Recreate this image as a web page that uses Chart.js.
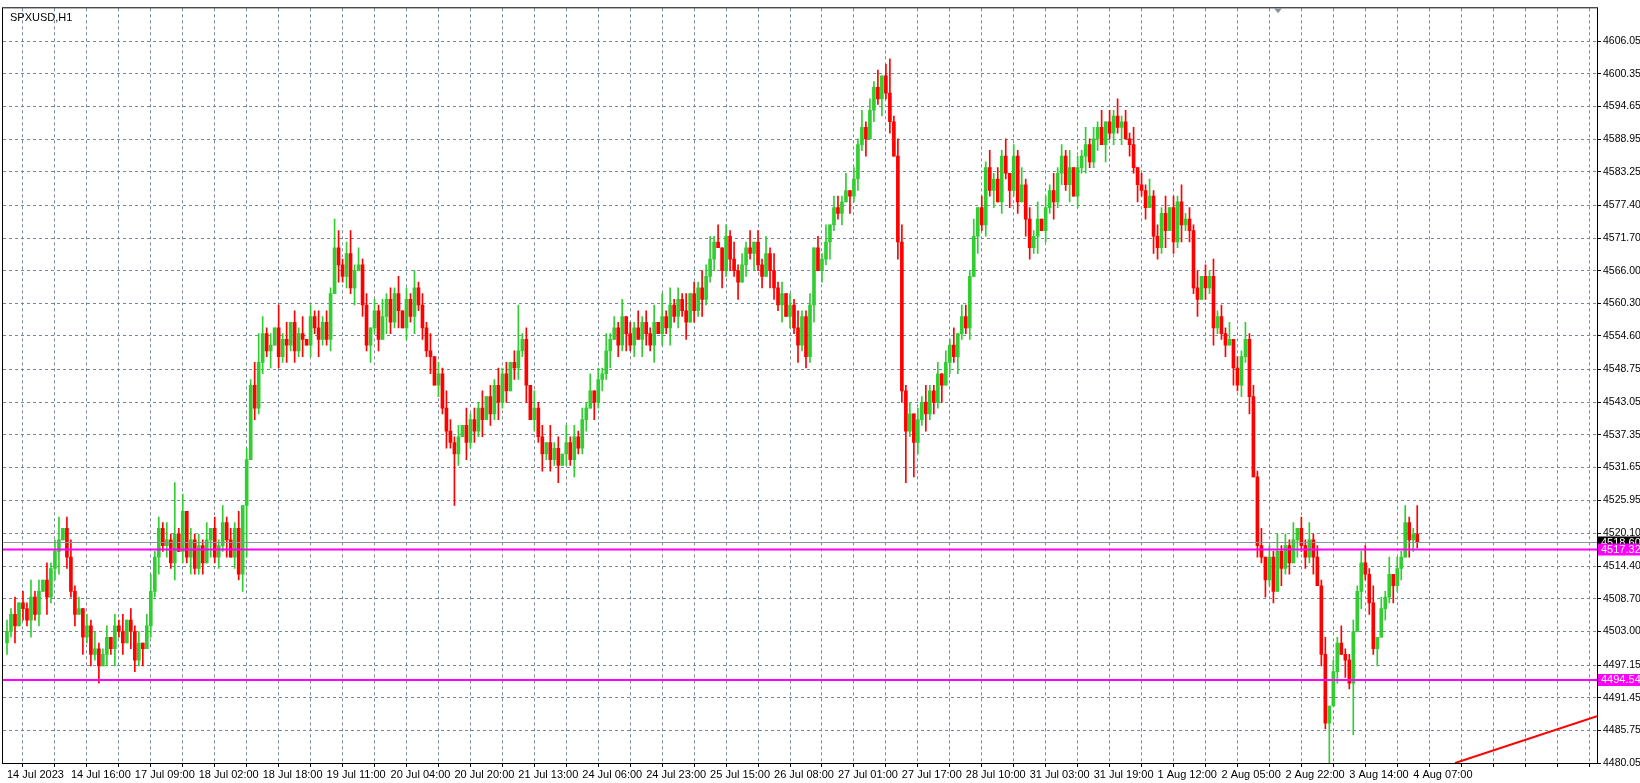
<!DOCTYPE html>
<html>
<head>
<meta charset="utf-8">
<script src="https://cdn.jsdelivr.net/npm/chart.js@4.4.0/dist/chart.umd.min.js"></script>
<style>
  html, body { margin: 0; padding: 0; background: #fff; }
  #wrap { width: 1640px; height: 783px; }
</style>
</head>
<body>
<div id="wrap"><canvas id="chart"></canvas></div>
<script>
// hourly closes, 14 Jul 00:00 onwards (16 bars per row)
const closes = [
  4503,4506,4504,4508,4507,4505,4509,4506,4510,4512,4509,4514,4517,4519,4521,4516,
  4510,4506,4507,4502,4504,4499,4500,4497,4499,4502,4500,4504,4503,4501,4505,4503,
  4498,4501,4500,4504,4510,4516,4521,4518,4519,4515,4520,4517,4524,4516,4519,4514,
  4518,4515,4519,4521,4516,4518,4522,4519,4516,4521,4513,4525,4533,4546,4542,4550,
  4555,4552,4553,4556,4551,4554,4553,4557,4552,4555,4554,4553,4558,4556,4554,4557,
  4554,4562,4570,4567,4565,4569,4563,4566,4567,4560,4553,4556,4559,4554,4558,4561,
  4557,4562,4559,4556,4561,4558,4563,4560,4556,4552,4551,4546,4548,4542,4538,4536,
  4534,4537,4539,4536,4540,4538,4542,4540,4544,4541,4546,4543,4548,4545,4550,4549,
  4552,4554,4546,4540,4542,4537,4534,4536,4533,4535,4532,4534,4536,4533,4537,4535,
  4540,4542,4545,4543,4547,4548,4552,4554,4556,4553,4558,4555,4553,4556,4554,4557,
  4555,4553,4557,4555,4558,4556,4560,4558,4561,4559,4557,4562,4559,4563,4561,4565,
  4568,4571,4570,4566,4572,4568,4566,4564,4567,4570,4569,4571,4567,4565,4569,4566,
  4563,4560,4562,4558,4560,4556,4553,4558,4551,4560,4570,4566,4568,4571,4574,4577,
  4576,4578,4580,4579,4582,4588,4591,4589,4594,4598,4596,4600,4597,4592,4586,4571,
  4545,4538,4541,4536,4540,4543,4541,4545,4543,4548,4546,4550,4553,4551,4555,4558,
  4556,4565,4572,4577,4574,4584,4580,4582,4578,4586,4583,4580,4586,4578,4581,4575,
  4570,4572,4575,4573,4577,4580,4578,4583,4586,4581,4584,4579,4584,4586,4588,4585,
  4589,4591,4588,4592,4590,4593,4591,4592,4589,4588,4584,4581,4580,4577,4579,4572,
  4570,4576,4573,4577,4571,4578,4574,4575,4573,4563,4561,4565,4563,4565,4556,4558,
  4555,4553,4554,4549,4546,4551,4554,4544,4530,4518,4516,4512,4516,4510,4517,4514,
  4518,4515,4519,4521,4518,4516,4519,4516,4511,4499,4487,4490,4496,4501,4499,4498,
  4494,4503,4510,4515,4513,4508,4500,4502,4507,4509,4513,4511,4514,4516,4522,4519,
  4520,4518.6
];
// wick lengths above / below the body, one digit per bar (points)
const wickUp =
  "2130213120312402" + "3120213112021302" + "1202312131913021" + "2130213121302145" +
  "3120413021302131" + "2153124131202131" + "2130213121302132" + "1203121302131202" +
  "8120312031203121" + "2130213121302131" + "2130413121302132" + "4130213121302131" +
  "3120213112021302" + "2130213121302613" + "3120213112021302" + "2130213121302131" +
  "2130213121302131" + "2130213121302131" + "2130213121302131" + "2130213121302131" +
  "2130213121302131" + "1212313021302131" + "15";
const wickDn =
  "2130213120312402" + "1203121302131203" + "2130213121302131" + "1203121302139021" +
  "2130213121302131" + "1203121302131203" + "2130213121302131" + "9203121302131202" +
  "2130213121302131" + "1203121302131203" + "2130213121302131" + "1203121302131203" +
  "2130213121302131" + "1203121302131203" + "2916213121302131" + "1203121302131203" +
  "2130213121302131" + "1203121302131203" + "2130213121302131" + "1203121302131203" +
  "1203121302170203" + "1903121302131203" + "21";
const firstOpen = 4501;

const yTicks = [4480.05,4485.75,4491.45,4497.15,4503.00,4508.70,4514.40,4520.10,4525.95,
  4531.65,4537.35,4543.05,4548.75,4554.60,4560.30,4566.00,4571.70,4577.40,4583.25,
  4588.95,4594.65,4600.35,4606.05];
const xLabels = ["14 Jul 2023","14 Jul 16:00","17 Jul 09:00","18 Jul 02:00","18 Jul 18:00",
  "19 Jul 11:00","20 Jul 04:00","20 Jul 20:00","21 Jul 13:00","24 Jul 06:00","24 Jul 23:00",
  "25 Jul 15:00","26 Jul 08:00","27 Jul 01:00","27 Jul 17:00","28 Jul 10:00","31 Jul 03:00",
  "31 Jul 19:00","1 Aug 12:00","2 Aug 05:00","2 Aug 22:00","3 Aug 14:00","4 Aug 07:00"];
const levels = [4517.32, 4494.54];
const lastPrice = 4518.6;
const trendLine = [{x: 362.5, y: 4480.05}, {x: 398, y: 4488.2}];

const UP = '#32cd32', DN = '#ff0000';
const FONT = '"Liberation Sans", Arial, sans-serif';
const bodies = [], wicks = [], colors = [];
closes.forEach((c, i) => {
  const o = i === 0 ? firstOpen : closes[i - 1];
  const top = Math.max(o, c), bot = Math.min(o, c);
  const hi = top + Number(wickUp[i] || 0), lo = bot - Number(wickDn[i] || 0);
  bodies.push({x: i, y: [bot, top === bot ? top + 0.15 : top]});
  wicks.push({x: i, y: [lo, hi]});
  colors.push(c >= o ? UP : DN);
});

const overlay = {
  id: 'overlay',
  afterDatasetsDraw(chart) {
    const {ctx, chartArea: a, scales: {y}} = chart;
    ctx.save();
    // current price line
    const py = Math.round(y.getPixelForValue(lastPrice)) + 0.5;
    ctx.strokeStyle = '#8a929a'; ctx.lineWidth = 1;
    ctx.beginPath(); ctx.moveTo(a.left, py); ctx.lineTo(a.right, py); ctx.stroke();
    ctx.strokeStyle = '#ff00ff'; ctx.lineWidth = 2;
    levels.forEach(v => {
      const ly = y.getPixelForValue(v);
      ctx.beginPath(); ctx.moveTo(a.left, ly); ctx.lineTo(a.right, ly); ctx.stroke();
    });
    ctx.font = '11px ' + FONT;
    ctx.textBaseline = 'middle';
    ctx.fillStyle = '#000';
    ctx.fillRect(a.right + 1, py - 6, 42, 12);
    ctx.fillStyle = '#fff';
    ctx.fillText(lastPrice.toFixed(2), a.right + 4, py);
    levels.forEach(v => {
      const ly = y.getPixelForValue(v);
      ctx.fillStyle = '#ff00ff';
      ctx.fillRect(a.right + 1, ly - 6, 42, 12);
      ctx.fillStyle = '#fff';
      ctx.fillText(v.toFixed(2), a.right + 4, ly);
    });
    // frame and title
    ctx.strokeStyle = '#000'; ctx.lineWidth = 1;
    ctx.strokeRect(a.left - 0.5, a.top - 0.5, a.right - a.left + 1, a.bottom - a.top + 1);
    ctx.fillStyle = '#000';
    ctx.textBaseline = 'top';
    ctx.fillText('SPXUSD,H1', a.left + 7, a.top + 4);
    ctx.fillStyle = '#8a929a';
    ctx.beginPath(); ctx.moveTo(1274, a.top); ctx.lineTo(1282, a.top); ctx.lineTo(1278, a.top + 5); ctx.fill();
    ctx.restore();
  }
};

new Chart(document.getElementById('chart'), {
  data: {
    datasets: [
      {type: 'bar', data: wicks, backgroundColor: colors, barThickness: 1, grouped: false, order: 2},
      {type: 'bar', data: bodies, backgroundColor: colors, barThickness: 3, grouped: false, order: 1},
      {type: 'line', data: trendLine, borderColor: DN, borderWidth: 2, pointRadius: 0, order: 0}
    ]
  },
  options: {
    responsive: true,
    maintainAspectRatio: false,
    animation: false,
    layout: {padding: {top: 5, left: 3, right: 0, bottom: 0}},
    plugins: {legend: {display: false}, tooltip: {enabled: false}},
    scales: {
      x: {
        type: 'linear', min: -1, max: 398, offset: false,
        afterBuildTicks: s => { s.ticks = []; for (let v = 0; v <= 392; v += 8) s.ticks.push({value: v}); },
        afterFit: s => { s.height = 20; },
        grid: {color: '#778899', drawTicks: true, tickLength: 4, tickColor: '#000'},
        border: {display: true, color: '#000', dash: [3, 3]},
        ticks: {
          color: '#000', maxRotation: 0, autoSkip: false, align: 'start', padding: 1,
          font: {family: FONT, size: 11},
          callback: v => (v % 16 === 0 && xLabels[v / 16]) ? xLabels[v / 16] : ''
        }
      },
      y: {
        position: 'right', min: 4480.05, max: 4611.8,
        afterBuildTicks: s => { s.ticks = yTicks.map(v => ({value: v})); },
        afterFit: s => { s.width = 43; },
        grid: {color: '#778899', tickLength: 4, tickColor: '#000'},
        border: {display: true, color: '#000', dash: [3, 3]},
        ticks: {
          color: '#000', padding: 2,
          font: {family: FONT, size: 10.5},
          callback: v => v.toFixed(2)
        }
      }
    }
  },
  plugins: [overlay]
});
</script>
</body>
</html>
